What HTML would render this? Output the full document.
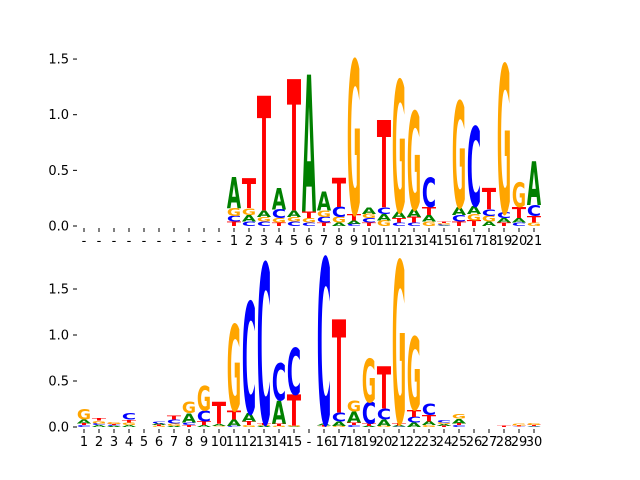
<!DOCTYPE html>
<html><head><meta charset="utf-8"><style>
html,body{margin:0;padding:0;background:#fff;}
svg{display:block;font-family:"DejaVu Sans","Liberation Sans",sans-serif;}
</style></head><body>
<svg id="chart" width="640" height="480" viewBox="0 0 640 480"></svg>
<script>
// ---- data: top logo (positions 1..21 after 10 gap columns) ----
const topLabels = ['-','-','-','-','-','-','-','-','-','-','1','2','3','4','5','6','7','8','9','10','11','12','13','14','15','16','17','18','19','20','21'];
const topA = [0,0,0,0,0,0,0,0,0,0, 0.28,0.06,0.06,0.195,0.06,1.23,0.17,0.03,0.03,0.06,0.06,0.06,0.07,0.06,0.005,0.07,0.07,0.04,0.04,0.04,0.39];
const topC = [0,0,0,0,0,0,0,0,0,0, 0.05,0.04,0.04,0.08,0.04,0.03,0.05,0.09,0.02,0.04,0.06,0.03,0.03,0.26,0.01,0.06,0.71,0.06,0.05,0.03,0.1];
const topG = [0,0,0,0,0,0,0,0,0,0, 0.07,0.06,0.04,0.04,0.04,0.04,0.06,0.05,1.38,0.04,0.05,1.18,0.88,0.04,0.01,0.95,0.06,0.05,1.33,0.22,0.03];
const topT = [0,0,0,0,0,0,0,0,0,0, 0.04,0.27,1.03,0.03,1.18,0.06,0.03,0.26,0.06,0.03,0.78,0.04,0.05,0.07,0.01,0.04,0.05,0.19,0.03,0.1,0.06];
const topTicks = [0,0.5,1.0,1.5];
const topTickLabels = ['0.0','0.5','1.0','1.5'];
// ---- data: bottom logo ----
const botLabels = ['1','2','3','4','5','6','7','8','9','10','11','12','13','14','15','-','16','17','18','19','20','21','22','23','24','25','26','27','28','29','30'];
const botA = [0.04,0.02,0.01,0.02,0.002,0.02,0.01,0.1,0.02,0.02,0.07,0.09,0.01,0.25,0.005,0,0.02,0.05,0.12,0.01,0.07,0.01,0.05,0.04,0.02,0.05,0.002,0,0,0.003,0.005];
const botC = [0.02,0.02,0.01,0.07,0.001,0.02,0.04,0.03,0.12,0.003,0.01,1.21,1.74,0.4,0.51,0,1.8,0.1,0.02,0.23,0.12,0.005,0.06,0.13,0.03,0.02,0.003,0,0,0.005,0.005];
const botG = [0.11,0.03,0.02,0.03,0.001,0.01,0.03,0.13,0.27,0.01,0.93,0.02,0.01,0.01,0.01,0,0.005,0.01,0.12,0.47,0.01,1.76,0.79,0.02,0.02,0.05,0.003,0,0,0.02,0.02];
const botT = [0.02,0.03,0.01,0.03,0.001,0.01,0.04,0.02,0.04,0.24,0.1,0.04,0.02,0.03,0.34,0,0.01,1.01,0.03,0.03,0.46,0.03,0.08,0.07,0.01,0.02,0.003,0.002,0.01,0.01,0.01];
const botTicks = [0,0.5,1.0,1.5];
const botTickLabels = ['0.0','0.5','1.0','1.5'];

const NS='http://www.w3.org/2000/svg';
const svg=document.getElementById('chart');
const colors={A:'#008000',C:'#0000ff',G:'#ffa500',T:'#ff0000'};
const CAP=7.29;
function mk(tag,attrs,parent){const e=document.createElementNS(NS,tag);for(const k in attrs)e.setAttribute(k,attrs[k]);(parent||svg).appendChild(e);return e;}

function drawPanel(name,labels,A,C,G,T,ticks,tickLabels,y0,pxPerUnit){
  const g=mk('g',{});
  
  
  const x0=84, step=15, w=14.2;
  const xScale=i=>x0+step*i;
  const yScale=v=>y0-v*pxPerUnit;
  ticks.forEach((t,k)=>{
    const y=yScale(t);
    const tk=mk('line',{x1:73,x2:77,y1:y,y2:y,stroke:'#000','stroke-width':1},g);
    
    
    const tl=mk('text',{x:69,y:y+4.5,'font-size':13,'text-anchor':'end',fill:'#000'},g);
    tl.textContent=tickLabels[k];
    
    
  });
  labels.forEach((lab,i)=>{
    const x=xScale(i);
    const tk=mk('line',{x1:x,x2:x,y1:y0+2,y2:y0+6,stroke:'#000','stroke-width':1},g);
    
    
    const tl=mk('text',{x:x,y:y0+19,'font-size':13,'text-anchor':'middle',fill:'#000'},g);
    tl.textContent=lab;
    
    
    const stack=[['A',A[i]],['C',C[i]],['G',G[i]],['T',T[i]]].filter(s=>s[1]>0).sort((a,b)=>a[1]-b[1]);
    let base=0;
    stack.forEach(([ch,v])=>{
      const yb=yScale(base), h=v*pxPerUnit;
      base+=v;
      if(h<0.3)return;
      const sy=h/CAP;
      const t=mk('text',{x:0,y:0,'font-size':10,'font-weight':'bold',fill:colors[ch],
        textLength:w,lengthAdjust:'spacingAndGlyphs',
        transform:`translate(${x-w/2},${yb}) scale(1,${sy})`},g);
      t.textContent=ch;
      
      
    });
  });
}
drawPanel('top-logo',topLabels,topA,topC,topG,topT,topTicks,topTickLabels,226,111.3);
drawPanel('bottom-logo',botLabels,botA,botC,botG,botT,botTicks,botTickLabels,427,92);
</script>
</body></html>
